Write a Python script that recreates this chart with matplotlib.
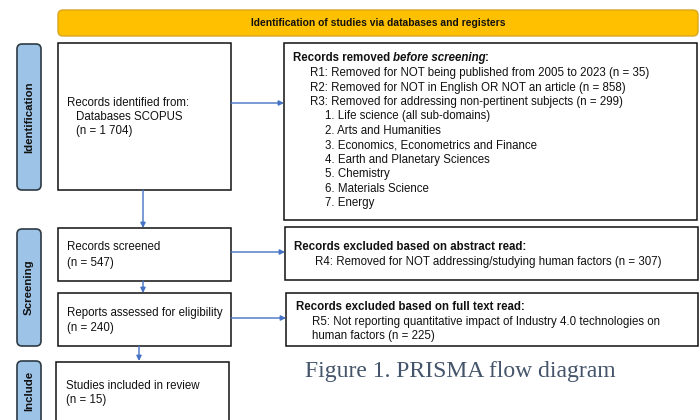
import matplotlib
matplotlib.use("Agg")
import matplotlib.pyplot as plt
from matplotlib.patches import FancyBboxPatch, Rectangle

# ---- data ----
header_title = "Identification of studies via databases and registers"
stage_labels = ["Identification", "Screening", "Include"]
n_identified = "1 704"
n_screened = 547
n_assessed = 240
n_included = 15
removed_reasons = ["R1: Removed for NOT being published from 2005 to 2023",
                   "R2: Removed for NOT in English OR NOT an article",
                   "R3: Removed for addressing non-pertinent subjects"]
removed_counts = [35, 858, 299]
excluded_subjects = ["Life science (all sub-domains)", "Arts and Humanities",
                     "Economics, Econometrics and Finance",
                     "Earth and Planetary Sciences", "Chemistry",
                     "Materials Science", "Energy"]
r4_count = 307
r5_count = 225
caption = "Figure 1. PRISMA flow diagram"

FONT = "Liberation Sans"
FS = 8.3
BLUE = "#4472C4"

fig = plt.figure(figsize=(7, 4.2), dpi=100)
ax = fig.add_axes([0, 0, 1, 1])
ax.set_xlim(0, 700)
ax.set_ylim(420, 0)
ax.axis("off")


def rbox(x0, y0, x1, y1, fc, ec, r=5, lw=1.0):
    p = FancyBboxPatch((x0, y0), x1 - x0, y1 - y0,
                       boxstyle=f"round,pad=0,rounding_size={r}",
                       fc=fc, ec=ec, lw=lw, zorder=2)
    ax.add_patch(p)


def box(x0, y0, x1, y1):
    ax.add_patch(Rectangle((x0, y0), x1 - x0, y1 - y0, fc="white",
                           ec="#111111", lw=1.1, zorder=2))


def txt(x, y, s, **kw):
    d = dict(fontsize=FS, family=FONT, va="center", ha="left",
             color="#111111", zorder=3)
    d.update(kw)
    return ax.text(x, y, s, **d)


def arrow(x0, y0, x1, y1):
    ax.annotate("", xy=(x1, y1), xytext=(x0, y0),
                arrowprops=dict(arrowstyle="-|>", color=BLUE, lw=1.0,
                                mutation_scale=7.5, shrinkA=0, shrinkB=0),
                zorder=4)


# header
rbox(58, 10, 698, 36, "#FFC000", "#D9A521", r=5, lw=1.0)
txt(378, 23, header_title, ha="center", fontweight="bold", fontsize=7.4)

# stage labels
stage_spans = [(44, 190), (229, 346), (361, 440)]
stage_centers = [117, 287, 391]
for lab, (ya, yb), yc in zip(stage_labels, stage_spans, stage_centers):
    rbox(17, ya, 41, yb, "#9DC3E6", "#2E3A44", r=5, lw=1.2)
    txt(29, yc, lab, ha="center", rotation=90, fontweight="bold",
        fontsize=8.2)

# left boxes
box(58, 43, 231, 190)
txt(67, 103, "Records identified from:")
txt(76, 117, "Databases SCOPUS")
txt(76, 131, f"(n = {n_identified})")

box(58, 228, 231, 281)
txt(67, 247, "Records screened")
txt(67, 263, f"(n = {n_screened})")

box(58, 293, 231, 346)
txt(67, 313, "Reports assessed for eligibility")
txt(67, 328, f"(n = {n_assessed})")

box(56, 362, 229, 440)
txt(66, 386, "Studies included in review")
txt(66, 400, f"(n = {n_included})")

# right boxes
box(284, 43, 697, 220)
fig.canvas.draw()
r = fig.canvas.get_renderer()
inv = ax.transData.inverted()
yb_head = 61.3
t1 = txt(293, yb_head, "Records removed", fontweight="bold", va="baseline")
bb = t1.get_window_extent(renderer=r)
x_after = inv.transform((bb.x1, bb.y0))[0] + 2.5
t2 = txt(x_after, yb_head, "before screening", fontweight="bold",
         fontstyle="italic", va="baseline")
bb2 = t2.get_window_extent(renderer=r)
x_after2 = inv.transform((bb2.x1, bb2.y0))[0]
txt(x_after2, yb_head, ":", fontweight="bold", va="baseline")

ys = [73.3, 87.5, 102]
for y, reason, c in zip(ys, removed_reasons, removed_counts):
    txt(310, y, f"{reason} (n = {c})")
for i, s in enumerate(excluded_subjects):
    txt(325, 116.3 + i * 14.5, f"{i + 1}. {s}")

box(285, 227, 698, 280)
txt(294, 247, "Records excluded based on abstract read:", fontweight="bold")
txt(315, 262, f"R4: Removed for NOT addressing/studying human factors (n = {r4_count})")

box(286, 293, 698, 346)
txt(296, 307, "Records excluded based on full text read:", fontweight="bold")
txt(312, 321.5, "R5: Not reporting quantitative impact of Industry 4.0 technologies on")
txt(312, 336, f"human factors (n = {r5_count})")

# arrows
arrow(231, 103, 284, 103)
arrow(143, 190, 143, 228)
arrow(231, 252, 285, 252)
arrow(143, 281, 143, 293)
arrow(231, 318, 286, 318)
arrow(139, 346, 139, 361)

# caption
ax.text(305, 372, caption, fontsize=17, family="Liberation Serif",
        color="#44546A", va="center", ha="left")

fig.savefig("out.png", dpi=100)
